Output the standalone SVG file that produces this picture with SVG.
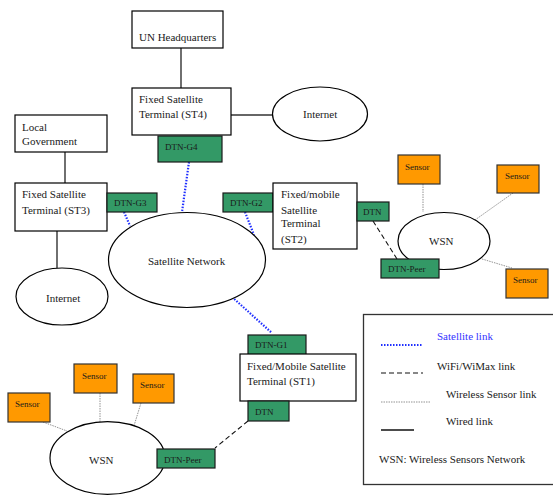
<svg xmlns="http://www.w3.org/2000/svg" width="553" height="496" viewBox="0 0 553 496">
<style>
  text { font-family: "Liberation Serif", "Times New Roman", serif; fill: #1a1a1a; }
  .t { font-size: 11px; }
  .s { font-size: 9px; }
  .box { fill: #ffffff; stroke: #000; stroke-width: 1.2; }
  .dtn { fill: #339966; stroke: #1a1a1a; stroke-width: 1.2; }
  .sensor { fill: #ff9900; stroke: #333; stroke-width: 1.2; }
  .ell { fill: #ffffff; stroke: #000; stroke-width: 1.2; }
  .wired { stroke: #333; stroke-width: 1.4; fill: none; }
  .sat { stroke: #1f2fff; stroke-width: 2.2; stroke-dasharray: 1.5 1.5; fill: none; }
  .wifi { stroke: #111; stroke-width: 1.1; stroke-dasharray: 5 3; fill: none; }
  .wsl { stroke: #777; stroke-width: 0.8; stroke-dasharray: 1.5 1; fill: none; }
</style>

<g id="connectors">
  <!-- wired -->
  <line class="wired" x1="181" y1="48" x2="181" y2="88"/>
  <line class="wired" x1="231" y1="115" x2="273" y2="115"/>
  <line class="wired" x1="65" y1="152" x2="65" y2="183"/>
  <line class="wired" x1="57" y1="231" x2="57" y2="268"/>
  <!-- satellite -->
  <line class="sat" x1="189" y1="162" x2="182" y2="212"/>
  <line class="sat" x1="124" y1="212" x2="130" y2="226"/>
  <line class="sat" x1="245" y1="212" x2="254" y2="235"/>
  <line class="sat" x1="232" y1="297" x2="272" y2="333"/>
  <!-- wifi -->
  <line class="wifi" x1="373" y1="221" x2="397" y2="259"/>
  <line class="wifi" x1="248" y1="421" x2="215" y2="448"/>
  <!-- wireless sensor -->
  <line class="wsl" x1="423" y1="184" x2="423" y2="212"/>
  <line class="wsl" x1="513" y1="193" x2="475" y2="220"/>
  <line class="wsl" x1="482" y1="259" x2="512" y2="268"/>
  <line class="wsl" x1="43" y1="422" x2="67" y2="431"/>
  <line class="wsl" x1="100" y1="393" x2="100" y2="422"/>
  <line class="wsl" x1="141" y1="403" x2="133" y2="429"/>
</g>

<g id="un-hq">
  <rect class="box" x="132" y="11" width="91" height="37"/>
  <text class="t" x="139" y="41">UN Headquarters</text>
</g>

<g id="st4">
  <rect class="box" x="132" y="88" width="99" height="47"/>
  <text class="t" x="139" y="103">Fixed Satellite</text>
  <text class="t" x="139" y="118">Terminal (ST4)</text>
</g>

<g id="dtn-g4">
  <rect class="dtn" x="158" y="136" width="64" height="26"/>
  <text class="s" x="165" y="150">DTN-G4</text>
</g>

<g id="internet-top">
  <ellipse class="ell" cx="320" cy="114" rx="47.5" ry="27"/>
  <text class="t" x="303" y="118">Internet</text>
</g>

<g id="local-gov">
  <rect class="box" x="15" y="115" width="92" height="37"/>
  <text class="t" x="22" y="131">Local</text>
  <text class="t" x="22" y="145">Government</text>
</g>

<g id="st3">
  <rect class="box" x="15" y="183" width="92" height="48"/>
  <text class="t" x="22" y="198">Fixed Satellite</text>
  <text class="t" x="22" y="214">Terminal (ST3)</text>
</g>

<g id="dtn-g3">
  <rect class="dtn" x="107" y="193" width="50" height="19"/>
  <text class="s" x="114" y="206">DTN-G3</text>
</g>

<g id="internet-left">
  <ellipse class="ell" cx="62" cy="296.5" rx="46" ry="28.5"/>
  <text class="t" x="46" y="302">Internet</text>
</g>

<g id="satellite-network">
  <ellipse class="ell" cx="187" cy="260" rx="78.5" ry="47.5"/>
  <text class="t" x="148" y="265">Satellite Network</text>
</g>

<g id="dtn-g2">
  <rect class="dtn" x="223" y="193" width="50" height="19"/>
  <text class="s" x="230" y="206">DTN-G2</text>
</g>

<g id="st2">
  <rect class="box" x="273" y="183" width="84" height="66"/>
  <text class="t" x="281" y="198">Fixed/mobile</text>
  <text class="t" x="281" y="214">Satellite</text>
  <text class="t" x="281" y="227">Terminal</text>
  <text class="t" x="281" y="243">(ST2)</text>
</g>

<g id="dtn-st2">
  <rect class="dtn" x="357" y="202" width="32" height="19"/>
  <text class="s" x="363" y="215">DTN</text>
</g>

<g id="wsn-right">
  <ellipse class="ell" cx="444" cy="241" rx="46" ry="28.5"/>
  <text class="t" x="429" y="245">WSN</text>
</g>

<g id="dtn-peer-right">
  <rect class="dtn" x="381" y="259" width="58" height="19"/>
  <text class="s" x="388" y="272">DTN-Peer</text>
</g>

<g id="sensor-r1">
  <rect class="sensor" x="398" y="155" width="42" height="29"/>
  <text class="s" x="405" y="170">Sensor</text>
</g>
<g id="sensor-r2">
  <rect class="sensor" x="497" y="165" width="42" height="28"/>
  <text class="s" x="505" y="179">Sensor</text>
</g>
<g id="sensor-r3">
  <rect class="sensor" x="506" y="269" width="42" height="29"/>
  <text class="s" x="513" y="283">Sensor</text>
</g>

<g id="dtn-g1">
  <rect class="dtn" x="248" y="335" width="58" height="20"/>
  <text class="s" x="255" y="348">DTN-G1</text>
</g>

<g id="st1">
  <rect class="box" x="240" y="354" width="116" height="47"/>
  <text class="t" x="247" y="370">Fixed/Mobile Satellite</text>
  <text class="t" x="247" y="385">Terminal (ST1)</text>
</g>

<g id="dtn-st1">
  <rect class="dtn" x="248" y="401" width="41" height="20"/>
  <text class="s" x="255" y="415">DTN</text>
</g>

<g id="wsn-left">
  <ellipse class="ell" cx="107.5" cy="458" rx="57.5" ry="36.3"/>
  <text class="t" x="89" y="464">WSN</text>
</g>

<g id="dtn-peer-left">
  <rect class="dtn" x="157" y="449" width="58" height="19"/>
  <text class="s" x="164" y="463">DTN-Peer</text>
</g>

<g id="sensor-l1">
  <rect class="sensor" x="8" y="393" width="42" height="29"/>
  <text class="s" x="15" y="407">Sensor</text>
</g>
<g id="sensor-l2">
  <rect class="sensor" x="74" y="364" width="43" height="29"/>
  <text class="s" x="82" y="379">Sensor</text>
</g>
<g id="sensor-l3">
  <rect class="sensor" x="133" y="374" width="41" height="29"/>
  <text class="s" x="140" y="388">Sensor</text>
</g>

<g id="legend">
  <rect x="363.5" y="314.5" width="200" height="170" fill="#fff" stroke="#333" stroke-width="1.3"/>
  <line class="sat" x1="381" y1="345" x2="423" y2="345"/>
  <text class="t" x="437" y="340" style="fill:#3333ff">Satellite link</text>
  <line class="wifi" x1="381" y1="373" x2="423" y2="373"/>
  <text class="t" x="437" y="370">WiFi/WiMax link</text>
  <line class="wsl" x1="381" y1="402" x2="431" y2="402"/>
  <text class="t" x="446" y="398">Wireless Sensor link</text>
  <line x1="381" y1="430" x2="414" y2="430" stroke="#111" stroke-width="1.3"/>
  <text class="t" x="446" y="425">Wired link</text>
  <text class="t" x="379" y="463">WSN: Wireless Sensors Network</text>
</g>
</svg>
